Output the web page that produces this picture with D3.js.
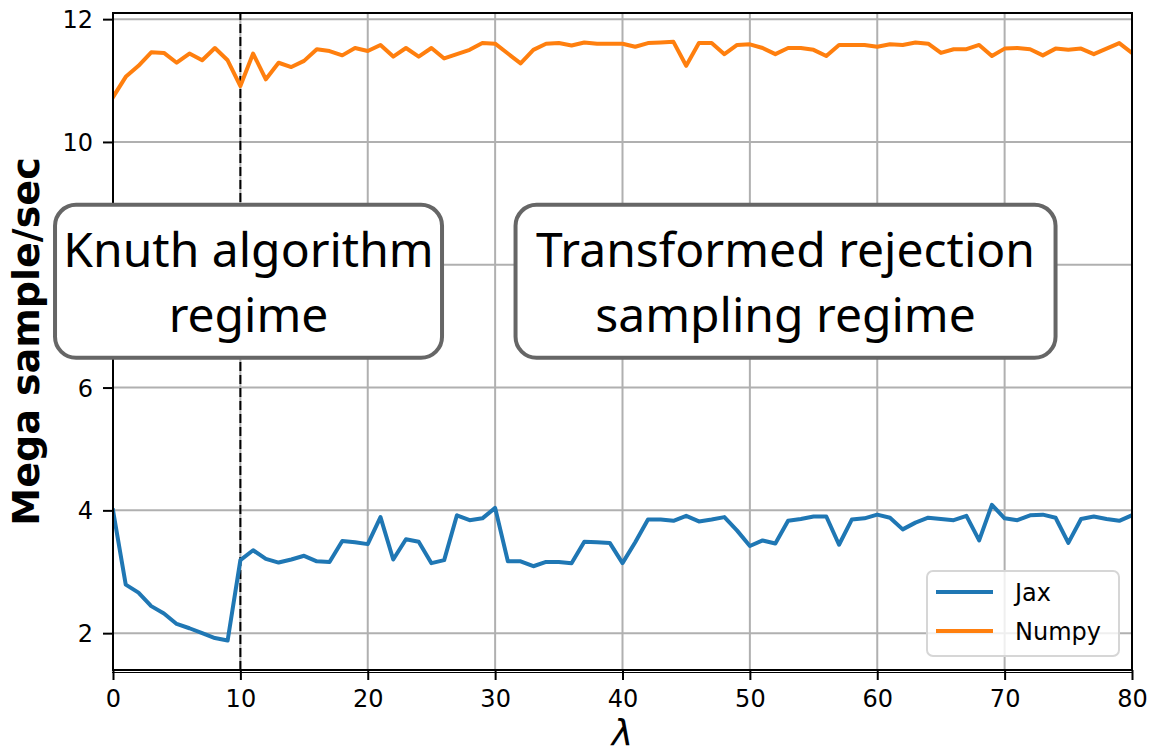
<!DOCTYPE html>
<html>
<head>
<meta charset="utf-8">
<script src="https://cdn.jsdelivr.net/npm/d3@7"></script>
<style>
  html, body { margin: 0; padding: 0; background: #fff; }
  svg { display: block; }
</style>
</head>
<body>
<svg id="chart" width="1150" height="755"></svg>
<script>
// Poisson sampler throughput (mega samples / sec) against the rate λ
const lambdas = [0, 1, 2, 3, 4, 5, 6, 7, 8, 9, 10, 11, 12, 13, 14, 15, 16, 17, 18, 19,
  20, 21, 22, 23, 24, 25, 26, 27, 28, 29, 30, 31, 32, 33, 34, 35, 36, 37, 38, 39,
  40, 41, 42, 43, 44, 45, 46, 47, 48, 49, 50, 51, 52, 53, 54, 55, 56, 57, 58, 59,
  60, 61, 62, 63, 64, 65, 66, 67, 68, 69, 70, 71, 72, 73, 74, 75, 76, 77, 78, 79, 80];

const jaxRate = [4.00, 2.79, 2.66, 2.44, 2.32, 2.15, 2.08, 2.00, 1.92, 1.88,
  3.19, 3.35, 3.21, 3.15, 3.20, 3.26, 3.17, 3.16, 3.50, 3.48,
  3.45, 3.89, 3.20, 3.53, 3.49, 3.14, 3.19, 3.92, 3.84, 3.87,
  4.04, 3.17, 3.17, 3.09, 3.16, 3.16, 3.14, 3.49, 3.48, 3.47,
  3.14, 3.48, 3.85, 3.85, 3.83, 3.91, 3.82, 3.85, 3.89, 3.67,
  3.42, 3.51, 3.46, 3.83, 3.86, 3.90, 3.90, 3.44, 3.85, 3.87,
  3.93, 3.88, 3.69, 3.80, 3.88, 3.86, 3.84, 3.91, 3.51, 4.09,
  3.87, 3.84, 3.92, 3.93, 3.88, 3.47, 3.86, 3.90, 3.86, 3.83, 3.92];

const numpyRate = [10.73, 11.06, 11.24, 11.46, 11.45, 11.29, 11.44, 11.33, 11.53, 11.33,
  10.91, 11.44, 11.02, 11.29, 11.22, 11.32, 11.51, 11.48, 11.41, 11.53,
  11.48, 11.58, 11.39, 11.53, 11.39, 11.53, 11.36, 11.43, 11.50, 11.61,
  11.60, 11.44, 11.28, 11.50, 11.60, 11.61, 11.57, 11.62, 11.60, 11.60,
  11.60, 11.55, 11.61, 11.62, 11.63, 11.24, 11.61, 11.61, 11.43, 11.58,
  11.59, 11.53, 11.43, 11.53, 11.53, 11.50, 11.40, 11.58, 11.58, 11.58,
  11.55, 11.59, 11.58, 11.62, 11.60, 11.45, 11.51, 11.51, 11.58, 11.40,
  11.52, 11.53, 11.51, 11.41, 11.52, 11.50, 11.52, 11.43, 11.52, 11.61, 11.45];

const seriesNames = ["Jax", "Numpy"];
const xTicks = [0, 10, 20, 30, 40, 50, 60, 70, 80];
const yTicks = [2, 4, 6, 8, 10, 12];
// the 8 label sits underneath the Knuth annotation box, so it is left blank
const yTickLabels = ["2", "4", "6", "", "10", "12"];
const regimeSplit = 10;
const regimeLabels = [["Knuth algorithm", "regime"], ["Transformed rejection", "sampling regime"]];

const colors = ["#1f77b4", "#ff7f0e"];
const margin = { left: 113, right: 18, top: 13, bottom: 85 };
const W = 1150, H = 755;
const svg = d3.select("#chart");

const x = d3.scaleLinear().domain([0, 80]).range([margin.left, W - margin.right]);
const y = d3.scaleLinear().domain([1.4, 12.1]).range([H - margin.bottom, margin.top]);
const [x0, x1] = x.range();
const [yB, yT] = y.range();

const TICK_FONT = "DejaVu Sans, sans-serif";

// grid
const grid = svg.append("g").attr("stroke", "#b0b0b0").attr("stroke-width", 2);
grid.selectAll(".gx").data(xTicks).join("line")
  .attr("x1", d => x(d)).attr("x2", d => x(d)).attr("y1", yB).attr("y2", yT);
grid.selectAll(".gy").data(yTicks).join("line")
  .attr("x1", x0).attr("x2", x1).attr("y1", d => y(d)).attr("y2", d => y(d));

// regime boundary
svg.append("line")
  .attr("x1", x(regimeSplit)).attr("x2", x(regimeSplit))
  .attr("y1", yB).attr("y2", yT)
  .attr("stroke", "#000").attr("stroke-width", 2).attr("stroke-dasharray", "9,4");

// series
const line = d3.line().x((d, i) => x(lambdas[i])).y(d => y(d));
svg.append("clipPath").attr("id", "plotclip")
  .append("rect").attr("x", x0).attr("y", yT).attr("width", x1 - x0).attr("height", yB - yT);
[jaxRate, numpyRate].forEach((s, k) => {
  svg.append("path").datum(s)
    .attr("clip-path", "url(#plotclip)")
    .attr("d", line)
    .attr("fill", "none")
    .attr("stroke", colors[k])
    .attr("stroke-width", 4)
    .attr("stroke-linejoin", "round")
    .attr("stroke-linecap", "square");
});

// axes
const xAxis = d3.axisBottom(x).tickValues(xTicks).tickFormat(d3.format("d")).tickSize(10).tickPadding(10);
const yAxis = d3.axisLeft(y).tickValues(yTicks)
  .tickFormat((d, i) => yTickLabels[i]).tickSize(10).tickPadding(10);
const gx = svg.append("g").attr("transform", `translate(0,${yB})`).call(xAxis);
const gy = svg.append("g").attr("transform", `translate(${x0},0)`).call(yAxis);
[gx, gy].forEach(g => {
  g.select(".domain").remove();
  g.selectAll(".tick line").attr("stroke", "#000").attr("stroke-width", 2);
  g.selectAll(".tick text").attr("fill", "#000").style("font-family", TICK_FONT).style("font-size", "24px");
});
gx.selectAll(".tick text").attr("dy", "0.71em");
gy.selectAll(".tick text").attr("dy", "0.36em");

// frame
svg.append("rect")
  .attr("x", x0).attr("y", yT).attr("width", x1 - x0).attr("height", yB - yT)
  .attr("fill", "none").attr("stroke", "#000").attr("stroke-width", 2);
svg.append("line").attr("x1", x0 - 1).attr("x2", x1 + 1).attr("y1", yB + 2.5).attr("y2", yB + 2.5)
  .attr("stroke", "#000").attr("stroke-width", 1.2);

// axis titles
svg.append("text")
  .attr("transform", `translate(39,${(yT + yB) / 2}) rotate(-90)`)
  .attr("text-anchor", "middle")
  .style("font-family", TICK_FONT).style("font-weight", "bold").style("font-size", "38px")
  .text("Mega sample/sec");
svg.append("text")
  .attr("x", (x0 + x1) / 2).attr("y", 745)
  .attr("text-anchor", "middle")
  .style("font-family", TICK_FONT).style("font-style", "italic").style("font-size", "36px")
  .text("λ");

// regime annotations
const boxes = [
  { cx: x(10.64), cy: y(7.73), w: 387, h: 153, lines: regimeLabels[0] },
  { cx: x(52.8), cy: y(7.73), w: 540, h: 153, lines: regimeLabels[1] }
];
boxes.forEach(b => {
  const g = svg.append("g");
  g.append("rect")
    .attr("x", b.cx - b.w / 2).attr("y", b.cy - b.h / 2)
    .attr("width", b.w).attr("height", b.h)
    .attr("rx", 21).attr("ry", 21)
    .attr("fill", "#fff").attr("stroke", "#666").attr("stroke-width", 4);
  b.lines.forEach((t, i) => {
    g.append("text")
      .attr("x", b.cx).attr("y", b.cy - 14 + i * 65)
      .attr("text-anchor", "middle")
      .style("font-family", "'Noto Sans', sans-serif").style("font-size", "48px")
      .attr("fill", "#000")
      .text(t);
  });
});

// legend
const lg = svg.append("g");
lg.append("rect")
  .attr("x", 927).attr("y", 571).attr("width", 192).attr("height", 85)
  .attr("rx", 6).attr("ry", 6)
  .attr("fill", "#fff").attr("fill-opacity", 0.8)
  .attr("stroke", "#d6d6d6").attr("stroke-width", 2);
seriesNames.forEach((name, i) => {
  const ly = 592 + i * 39;
  lg.append("line").attr("x1", 936).attr("x2", 993).attr("y1", ly).attr("y2", ly)
    .attr("stroke", colors[i]).attr("stroke-width", 4);
  lg.append("text").attr("x", 1015).attr("y", ly + 9)
    .style("font-family", TICK_FONT).style("font-size", "24px")
    .text(name);
});
</script>
</body>
</html>
